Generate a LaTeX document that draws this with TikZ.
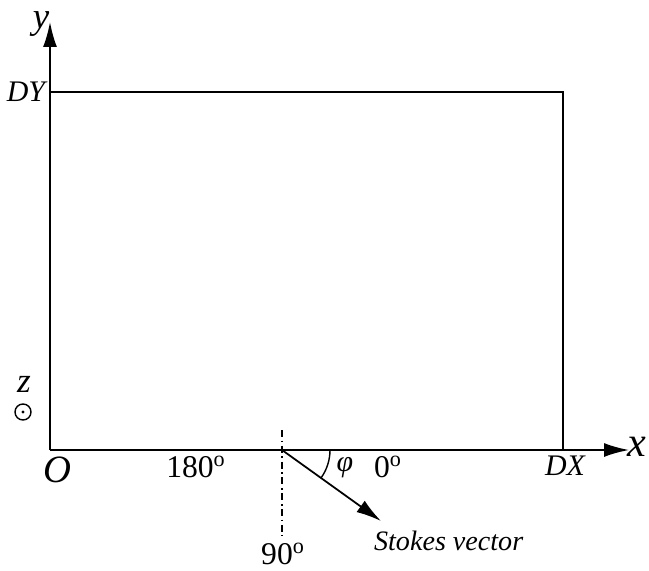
\documentclass[tikz,border=0pt]{standalone}
\usepackage{amsmath,amssymb}
\usepackage{fontspec}
\setmainfont{Liberation Serif}
\usepackage{tikz}
\usetikzlibrary{arrows.meta,positioning}
\tikzset{
    axisline/.style={line width=1pt, -{Latex[length=5mm,width=2.8mm]}},
    frameline/.style={line width=0.9pt},
    refline/.style={line width=0.8pt, dash pattern=on 4pt off 2pt on 1pt off 2pt},
    lbl/.style={font=\fontsize{18}{20}\selectfont, inner sep=1pt},
    ilbl/.style={font=\fontsize{17}{20}\selectfont\itshape, inner sep=1pt}
}

\begin{document}
\begin{tikzpicture}[x=0.02cm,y=-0.02cm]
        \useasboundingbox (0,0) rectangle (649,571);
        \coordinate (O) at (50,450);
        \coordinate (ytip) at (50,22);
        \coordinate (xtip) at (629,450);
        \coordinate (tl) at (50,92);
        \coordinate (tr) at (563,92);
        \coordinate (br) at (563,450);
        \coordinate (mid) at (282,450);
        \coordinate (dtop) at (282,430);
        \coordinate (dbot) at (282,536);
        \coordinate (stip) at (381,521);
        % axes and frame
        \draw[axisline] (O) -- (ytip);
        \draw[axisline] (O) -- (xtip);
        \draw[frameline] (tl) -- (tr) -- (br);
        \draw[refline] (dtop) -- (dbot);
        \draw[axisline] (mid) -- (stip);
        \draw[line width=0.8pt] ([shift={(0:48)}]mid) arc (0:35.5:48);
        % labels
        \node[ilbl, font=\fontsize{21}{22}\selectfont\itshape, inner sep=0pt] (ylab) at (41,24) {y};
        \node[ilbl, font=\fontsize{24}{26}\selectfont\itshape] (xlab) at (637,447) {x};
        \node[ilbl] (dy) at (26,92) {DY};
        \node[ilbl] (dx) at (565,466) {DX};
        \node[ilbl, font=\fontsize{22}{24}\selectfont\itshape] (o) at (57,470) {O};
        \node[ilbl, font=\fontsize{20}{22}\selectfont\itshape] (zlab) at (24,384) {z};
        \node[circle, draw, line width=0.8pt, minimum size=0.32cm, inner sep=0pt] (zdir) at (23,412) {};
        \fill (zdir.center) circle (0.9pt);
        \node[lbl] (a180) at (196,467) {180\textsuperscript{o}};
        \node[lbl] (a0) at (388,467) {0\textsuperscript{o}};
        \node[lbl] (a90) at (283,554) {90\textsuperscript{o}};
        \node[ilbl, font=\fontsize{17}{18}\selectfont\itshape] (phi) at (345,468) {φ};
        \node[ilbl, font=\fontsize{16}{18}\selectfont\itshape, anchor=west] (stokes) at (372,541) {Stokes vector};
    \end{tikzpicture}
\end{document}
